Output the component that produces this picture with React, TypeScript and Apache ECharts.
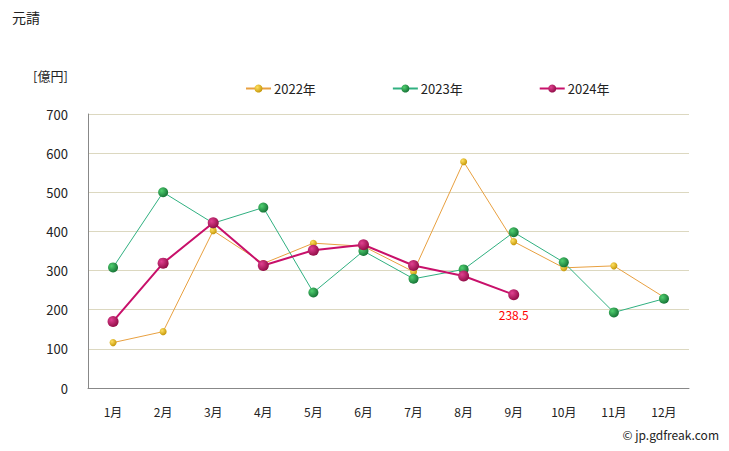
import React, { useEffect, useRef } from "react";
import * as echarts from "echarts";

const months = ["1月", "2月", "3月", "4月", "5月", "6月", "7月", "8月", "9月", "10月", "11月", "12月"];
const values2022 = [116, 144, 402, 318, 370, 362, 297, 578, 374, 307, 312, 232];
const values2023 = [308, 500, 421, 461, 244, 350, 279, 303, 398, 321, 193, 228];
const values2024 = [170, 319, 422, 313, 352, 366, 313, 286, 238.5];
const yTicks = { min: 0, max: 700, interval: 100 };

const FONT = "'Noto Sans CJK JP', 'Noto Sans', sans-serif";

function ball(light: string, dark: string) {
  return {
    type: "radial",
    x: 0.35,
    y: 0.35,
    r: 0.75,
    colorStops: [
      { offset: 0, color: light },
      { offset: 1, color: dark },
    ],
  };
}

export default function App() {
  const ref = useRef<HTMLDivElement>(null);
  useEffect(() => {
    if (!ref.current) return;
    const chart = echarts.init(ref.current, undefined, { renderer: "svg" });
    const last = values2024.length - 1;
    chart.setOption({
      animation: false,
      textStyle: { fontFamily: FONT },
      grid: { left: 88, right: 40, top: 114, bottom: 63 },
      legend: {
        left: 240,
        top: 77,
        itemWidth: 25,
        itemHeight: 10,
        itemGap: 76,
        textStyle: { fontSize: 13, color: "#222", fontFamily: FONT, padding: [0, 0, 0, -2] },
        data: ["2022年", "2023年", "2024年"],
      },
      graphic: [
        { type: "text", left: 12, top: 10, style: { text: "元請", fontSize: 14, fill: "#222", fontFamily: FONT } },
        { type: "text", left: 33, top: 69, style: { text: "[億円]", fontSize: 13, fill: "#222", fontFamily: FONT } },
        { type: "text", right: 10, top: 428, style: { text: "© jp.gdfreak.com", fontSize: 12, fill: "#222", fontFamily: FONT } },
      ],
      xAxis: {
        type: "category",
        data: months,
        boundaryGap: true,
        axisLine: { lineStyle: { color: "#888" } },
        axisTick: { show: false },
        axisLabel: { fontSize: 12, color: "#222", margin: 17, fontFamily: FONT },
      },
      yAxis: {
        type: "value",
        min: yTicks.min,
        max: yTicks.max,
        interval: yTicks.interval,
        axisLine: { show: true, lineStyle: { color: "#888" } },
        axisTick: { show: false },
        axisLabel: { fontSize: 13, color: "#222", margin: 20, fontFamily: FONT },
        splitLine: { lineStyle: { color: "#dcd8c0", width: 1 } },
      },
      series: [
        {
          name: "2022年",
          type: "line",
          data: values2022,
          symbol: "circle",
          symbolSize: 7,
          lineStyle: { color: "#e8a040", width: 1 },
          itemStyle: { color: ball("#ffe060", "#c09000"), borderWidth: 0 },
          z: 2,
        },
        {
          name: "2023年",
          type: "line",
          data: values2023,
          symbol: "circle",
          symbolSize: 10,
          lineStyle: { color: "#30b080", width: 1 },
          itemStyle: { color: ball("#50d070", "#106a30"), borderWidth: 0 },
          z: 3,
        },
        {
          name: "2024年",
          type: "line",
          data: values2024.map((v, i) =>
            i === last
              ? {
                  value: v,
                  label: {
                    show: true,
                    position: "bottom",
                    distance: 8,
                    color: "#ff0000",
                    fontSize: 12,
                    fontFamily: FONT,
                  },
                }
              : v
          ),
          symbol: "circle",
          symbolSize: 11,
          lineStyle: { color: "#c8106a", width: 2 },
          itemStyle: { color: ball("#e04090", "#8a0840"), borderWidth: 0 },
          z: 4,
        },
      ],
    });
    return () => chart.dispose();
  }, []);
  return <div ref={ref} style={{ width: 729, height: 451, margin: -8 }} />;
}
